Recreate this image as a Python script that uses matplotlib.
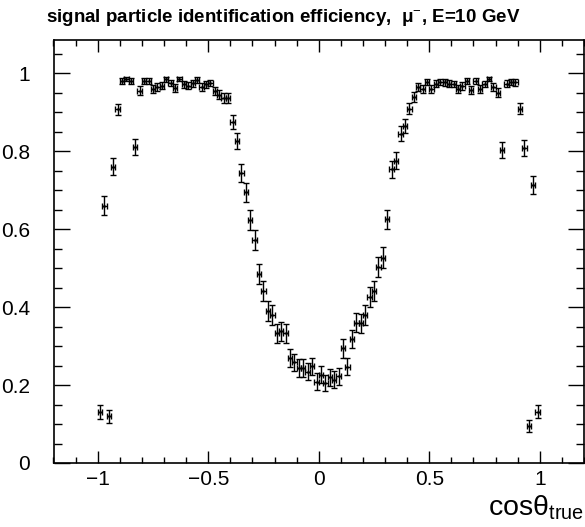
import matplotlib
matplotlib.use("Agg")
import matplotlib.pyplot as plt
import numpy as np
from matplotlib.ticker import MultipleLocator

# histogram binning: 100 bins in cos(theta_true) from -1 to 1
n_bins = 100
x_lo, x_hi = -1.0, 1.0

# efficiency per bin
eff = [0.13, 0.66, 0.12, 0.76, 0.907, 0.98, 0.985, 0.979, 0.81, 0.955,
       0.979, 0.98, 0.96, 0.965, 0.968, 0.984, 0.975, 0.962, 0.985, 0.971,
       0.968, 0.974, 0.982, 0.965, 0.971, 0.975, 0.954, 0.945, 0.937, 0.937,
       0.875, 0.826, 0.744, 0.694, 0.624, 0.571, 0.485, 0.441, 0.39, 0.379,
       0.333, 0.338, 0.333, 0.27, 0.258, 0.244, 0.244, 0.234, 0.248, 0.209,
       0.226, 0.205, 0.22, 0.214, 0.222, 0.294, 0.247, 0.318, 0.36, 0.358,
       0.38, 0.425, 0.442, 0.503, 0.527, 0.625, 0.753, 0.775, 0.845, 0.865,
       0.909, 0.939, 0.965, 0.96, 0.978, 0.96, 0.973, 0.978, 0.976, 0.973,
       0.972, 0.959, 0.967, 0.98, 0.956, 0.98, 0.96, 0.972, 0.985, 0.965,
       0.95, 0.803, 0.973, 0.978, 0.976, 0.909, 0.808, 0.096, 0.713, 0.132]

# vertical error per bin
eff_err = [0.0175, 0.0246, 0.0169, 0.0222, 0.0151, 0.0073, 0.0063, 0.0075, 0.0204, 0.0108,
           0.0075, 0.0073, 0.0102, 0.0096, 0.0091, 0.0065, 0.0081, 0.0099, 0.0063, 0.0087,
           0.0091, 0.0083, 0.0069, 0.0096, 0.0087, 0.0081, 0.0109, 0.0119, 0.0126, 0.0126,
           0.0172, 0.0197, 0.0227, 0.0240, 0.0252, 0.0257, 0.0260, 0.0258, 0.0254, 0.0252,
           0.0245, 0.0246, 0.0245, 0.0231, 0.0227, 0.0223, 0.0223, 0.0220, 0.0225, 0.0211,
           0.0217, 0.0210, 0.0215, 0.0213, 0.0216, 0.0237, 0.0224, 0.0242, 0.0250, 0.0249,
           0.0252, 0.0257, 0.0258, 0.0260, 0.0260, 0.0252, 0.0224, 0.0217, 0.0188, 0.0178,
           0.0150, 0.0124, 0.0096, 0.0102, 0.0076, 0.0102, 0.0084, 0.0076, 0.0080, 0.0084,
           0.0086, 0.0103, 0.0093, 0.0073, 0.0107, 0.0073, 0.0102, 0.0086, 0.0063, 0.0096,
           0.0113, 0.0207, 0.0084, 0.0076, 0.0080, 0.0150, 0.0205, 0.0153, 0.0235, 0.0176]

edges = np.linspace(x_lo, x_hi, n_bins + 1)
centers = 0.5 * (edges[:-1] + edges[1:])
half_w = 0.5 * (edges[1:] - edges[:-1])

plt.rcParams['font.family'] = ['Liberation Sans', 'DejaVu Sans']
plt.rcParams['mathtext.fontset'] = 'custom'
plt.rcParams['mathtext.rm'] = 'Liberation Sans'
plt.rcParams['mathtext.it'] = 'Liberation Sans'

fig = plt.figure(figsize=(5.85, 5.27), dpi=100)
ax = fig.add_axes([53.5 / 585, 64 / 527, (584 - 53.5) / 585, (463 - 40) / 527])

ax.errorbar(centers, eff, xerr=half_w, yerr=eff_err, fmt='o', ms=1.0,
            color='black', ecolor='black', elinewidth=1.0, capsize=2.2, capthick=1.0)

ax.set_xlim(-1.2, 1.2)
ax.set_ylim(0, 1.085)

ax.xaxis.set_major_locator(MultipleLocator(0.5))
ax.xaxis.set_minor_locator(MultipleLocator(0.1))
ax.yaxis.set_major_locator(MultipleLocator(0.2))
ax.yaxis.set_minor_locator(MultipleLocator(0.05))
ax.set_yticks([0, 0.2, 0.4, 0.6, 0.8, 1.0])
ax.set_yticklabels(['0', '0.2', '0.4', '0.6', '0.8', '1'])
ax.set_xticks([-1, -0.5, 0, 0.5, 1])
ax.set_xticklabels(['\u22121', '\u22120.5', '0', '0.5', '1'])

ax.tick_params(axis='x', which='major', direction='in', length=8.5, width=1.0,
               top=True, labelsize=15, pad=5)
ax.tick_params(axis='x', which='minor', direction='in', length=4, width=1.0, top=True)
ax.tick_params(axis='y', which='major', direction='in', length=11.5, width=1.0,
               right=True, labelsize=15, pad=17)
ax.tick_params(axis='y', which='minor', direction='in', length=5.8, width=1.0, right=True)

for s in ax.spines.values():
    s.set_linewidth(1.2)

fig.text(283 / 585, 1 - 17 / 527,
         'signal particle identification efficiency,  \u03bc$^{-}$, E=10 GeV',
         ha='center', va='center', fontsize=13.5, fontweight='bold')

fig.text(584 / 585, 1 - 516 / 527, r'cos$\mathregular{\theta_{true}}$',
         ha='right', va='baseline', fontsize=20.5)

fig.savefig('out.png', dpi=100)
